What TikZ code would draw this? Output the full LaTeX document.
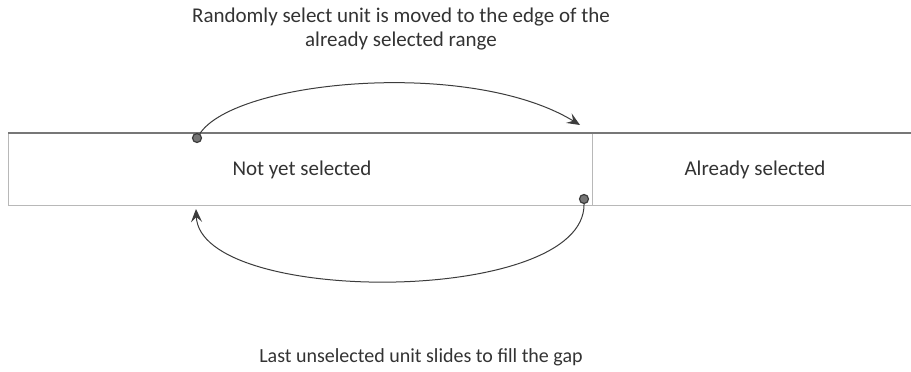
\documentclass[tikz,border=0pt]{standalone}
\usepackage{fontspec}
\setmainfont{Carlito}
\usetikzlibrary{arrows.meta}
\definecolor{pencil}{HTML}{3C3C3C}
\definecolor{boxline}{HTML}{B8B8B8}
\definecolor{ink}{HTML}{333333}
\tikzset{
  region/.style={draw=boxline, line width=0.8pt, minimum height=72pt, inner sep=0pt},
  label/.style={align=center, font=\fontsize{21}{24}\selectfont, text=ink, inner sep=0pt},
  pencilline/.style={draw=pencil, line width=1pt, -{Stealth[length=13pt,width=11pt,inset=5pt]}},
  dot/.style={circle, draw=pencil, fill=pencil!70, line width=1.2pt, minimum size=9pt, inner sep=0pt}
}
\begin{document}
\begin{tikzpicture}[x=1pt,y=-1pt]
\useasboundingbox (0,0) rectangle (911,372);
\fill[white] (0,0) rectangle (911,372);
\node[region, minimum width=584pt, anchor=north west] (notsel) at (8,133) {};
\node[region, minimum width=330pt, anchor=north west] (already) at (592,133) {};
\node[label] (nt) at (302,170) {Not yet selected};
\node[label] (at) at (755,170) {Already selected};
\draw[pencil!70, line width=1.1pt] (notsel.north west) -- ([xshift=330pt]already.north west);
\node[label] (toptext) at (401,29) {Randomly select unit is moved to the edge of the\\already selected range};
\node[label, font=\fontsize{20}{24}\selectfont] (bottext) at (421,357) {Last unselected unit slides to fill the gap};
\node[dot] (d1) at (197,138) {};
\node[dot] (d2) at (584,199) {};
\coordinate (a1) at (580,125);
\coordinate (a2) at (196,209);
\draw[pencilline] (d1) .. controls (235,80) and (470,58) .. (a1);
\draw[pencilline] (d2) .. controls (585,306) and (200,306) .. (a2);
\end{tikzpicture}
\end{document}
